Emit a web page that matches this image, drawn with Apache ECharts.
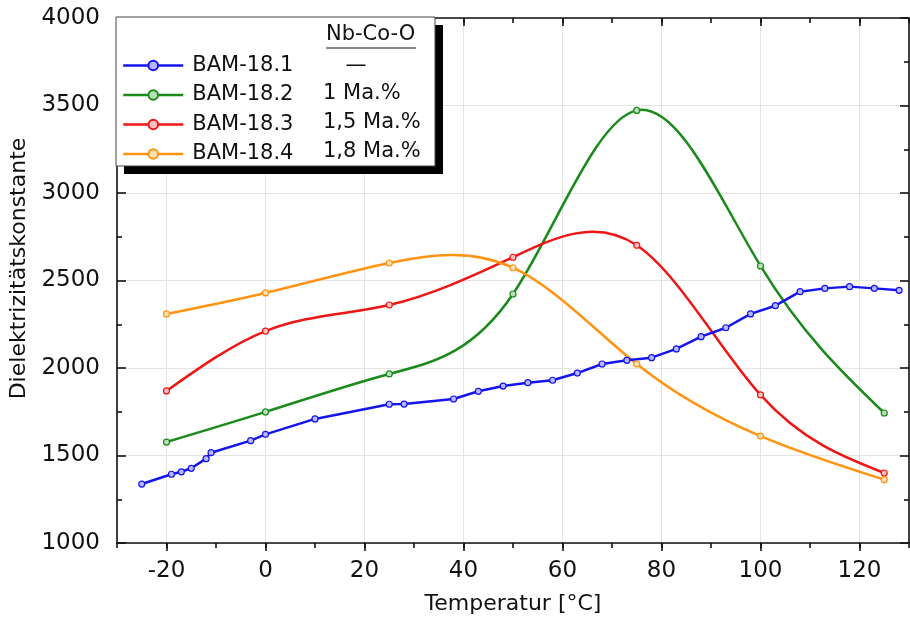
<!DOCTYPE html>
<html>
<head>
<meta charset="utf-8">
<script src="https://cdn.jsdelivr.net/npm/echarts@6/dist/echarts.min.js"></script>
<style>html,body{margin:0;padding:0;background:#fff}#c{width:910px;height:621px}</style>
</head>
<body>
<div id="c"></div>
<script>
// ---- data ----
const seriesNames = ['BAM-18.1', 'BAM-18.2', 'BAM-18.3', 'BAM-18.4'];
const nbCoOContent = ['—', '1 Ma.%', '1,5 Ma.%', '1,8 Ma.%'];
const tempBlue = [-25, -19, -17, -15, -12, -11, -3, 0, 10, 25, 28, 38, 43, 48, 53, 58, 63, 68, 73, 78, 83, 88, 93, 98, 103, 108, 113, 118, 123, 128];
const bam181 = [1337, 1393, 1407, 1427, 1482, 1516, 1585, 1621, 1709, 1793, 1794, 1823, 1867, 1897, 1916, 1930, 1971, 2023, 2044, 2059, 2109, 2179, 2230, 2309, 2356, 2436, 2455, 2465, 2455, 2444];
const tempOther = [-20, 0, 25, 50, 75, 100, 125];
const bam182 = [1577, 1749, 1966, 2423, 3472, 2583, 1743];
const bam183 = [1869, 2211, 2360, 2633, 2701, 1846, 1400];
const bam184 = [2309, 2429, 2600, 2573, 2023, 1611, 1362];
const xMajorTicks = [-20, 0, 20, 40, 60, 80, 100, 120];

const zip = (xs, ys) => xs.map((x, i) => [x, ys[i]]);
const FONT = 'DejaVu Sans';
const colors = ['#1414ee', '#1a8a1a', '#ee1515', '#ff9412'];
const fills = ['#b8b8ff', '#b8e0b8', '#ffc0c0', '#ffe0b0'];

// natural cubic spline slopes at the measured points (curve rendering only)
function splineSlopes(xs, ys) {
  const n = xs.length, h = [], M = new Array(n).fill(0);
  for (let i = 0; i < n - 1; i++) h.push(xs[i + 1] - xs[i]);
  const a = [], b = [], c = [], r = [];
  for (let i = 1; i < n - 1; i++) {
    a.push(h[i - 1]); b.push(2 * (h[i - 1] + h[i])); c.push(h[i]);
    r.push(6 * ((ys[i + 1] - ys[i]) / h[i] - (ys[i] - ys[i - 1]) / h[i - 1]));
  }
  const m = b.length;
  for (let i = 1; i < m; i++) { const w = a[i] / b[i - 1]; b[i] -= w * c[i - 1]; r[i] -= w * r[i - 1]; }
  const sol = new Array(m);
  for (let i = m - 1; i >= 0; i--) sol[i] = (r[i] - (i < m - 1 ? c[i] * sol[i + 1] : 0)) / b[i];
  for (let i = 0; i < m; i++) M[i + 1] = sol[i];
  const d = [];
  for (let i = 0; i < n - 1; i++) d.push((ys[i + 1] - ys[i]) / h[i] - h[i] * (2 * M[i] + M[i + 1]) / 6);
  d.push((ys[n - 1] - ys[n - 2]) / h[n - 2] + h[n - 2] * (M[n - 2] + 2 * M[n - 1]) / 6);
  return d;
}

function curveSeries(xs, ys, color) {
  const d = splineSlopes(xs, ys);
  return {
    type: 'custom', xAxisIndex: 0, yAxisIndex: 0, z: 2, silent: true,
    data: zip(xs, ys),
    encode: { x: 0, y: 1 },
    renderItem: function (params, api) {
      const i = params.dataIndex;
      if (i >= xs.length - 1) return null;
      const x0 = api.value(0), y0 = api.value(1);
      const x1 = xs[i + 1], y1 = ys[i + 1];
      const hh = (x1 - x0) / 3;
      const p0 = api.coord([x0, y0]);
      const p3 = api.coord([x1, y1]);
      const c1 = api.coord([x0 + hh, y0 + d[i] * hh]);
      const c2 = api.coord([x1 - hh, y1 - d[i + 1] * hh]);
      return {
        type: 'bezierCurve',
        shape: { x1: p0[0], y1: p0[1], x2: p3[0], y2: p3[1], cpx1: c1[0], cpy1: c1[1], cpx2: c2[0], cpy2: c2[1] },
        style: { stroke: color, lineWidth: 2.5, fill: null }
      };
    }
  };
}

function mkSeries(i, data, showLine) {
  return {
    name: seriesNames[i], type: 'line', data: data, z: 3,
    xAxisIndex: 0, yAxisIndex: 0,
    symbol: 'circle', symbolSize: 6,
    lineStyle: { color: colors[i], width: 2.5, opacity: showLine ? 1 : 0 },
    itemStyle: { color: fills[i], borderColor: colors[i], borderWidth: 1.2 },
    emphasis: { disabled: true }
  };
}

const chart = echarts.init(document.getElementById('c'), null, { renderer: 'canvas' });
const axisLineStyle = { color: '#111', width: 1.6 };
const xBase = { type: 'value', min: -30, max: 130 };
const plain = v => String(v);
chart.setOption({
  animation: false,
  backgroundColor: '#fff',
  grid: { left: 117, right: 1, top: 18, bottom: 78, containLabel: false },
  xAxis: [
    Object.assign({}, xBase, {
      position: 'bottom',
      name: 'Temperatur [°C]', nameLocation: 'middle', nameGap: 50,
      nameTextStyle: { fontFamily: FONT, fontSize: 22, color: '#111' },
      axisLine: { show: true, onZero: false, lineStyle: axisLineStyle },
      axisTick: { show: true, inside: false, length: 8, customValues: xMajorTicks, lineStyle: { color: '#111', width: 1.6 } },
      axisLabel: { customValues: xMajorTicks, margin: 17, fontFamily: FONT, fontSize: 23, color: '#111', formatter: plain },
      splitLine: { show: true, lineStyle: { color: '#e4e4e4', width: 1 } }
    }),
    Object.assign({}, xBase, {
      position: 'top',
      axisLine: { show: true, onZero: false, lineStyle: axisLineStyle },
      axisTick: { show: true, inside: true, length: 8, customValues: xMajorTicks, lineStyle: { color: '#111', width: 1.6 } },
      axisLabel: { show: false },
      splitLine: { show: false }
    }),
    Object.assign({}, xBase, {
      position: 'bottom', interval: 10,
      axisLine: { show: false, onZero: false },
      axisTick: { show: true, inside: false, length: 5, lineStyle: { color: '#111', width: 1.6 } },
      axisLabel: { show: false },
      splitLine: { show: false }
    }),
    Object.assign({}, xBase, {
      position: 'top', interval: 10,
      axisLine: { show: false, onZero: false },
      axisTick: { show: true, inside: true, length: 5, lineStyle: { color: '#111', width: 1.6 } },
      axisLabel: { show: false },
      splitLine: { show: false }
    })
  ],
  yAxis: [
    {
      type: 'value', min: 1000, max: 4000, interval: 500, position: 'left',
      name: 'Dielektrizitätskonstante', nameLocation: 'middle', nameGap: 84, nameRotate: 90,
      nameTextStyle: { fontFamily: FONT, fontSize: 22, color: '#111', padding: [0, 0, 0, 24] },
      axisLine: { show: true, onZero: false, lineStyle: axisLineStyle },
      axisTick: { show: true, inside: true, length: 9, lineStyle: { color: '#111', width: 1.6 } },
      minorTick: { show: true, splitNumber: 2, length: 5, lineStyle: { color: '#111', width: 1.6 } },
      axisLabel: { margin: 17, fontFamily: FONT, fontSize: 23, color: '#111', formatter: plain },
      splitLine: { show: true, lineStyle: { color: '#e4e4e4', width: 1 } }
    },
    {
      type: 'value', min: 1000, max: 4000, interval: 500, position: 'right',
      axisLine: { show: true, onZero: false, lineStyle: axisLineStyle },
      axisTick: { show: true, inside: true, length: 9, lineStyle: { color: '#111', width: 1.6 } },
      minorTick: { show: true, splitNumber: 2, length: 5, lineStyle: { color: '#111', width: 1.6 } },
      axisLabel: { show: false },
      splitLine: { show: false }
    }
  ],
  legend: {
    show: true, orient: 'vertical', left: 122, top: 55, z: 100, padding: 0,
    itemWidth: 60, itemHeight: 12, itemGap: 8.5,
    data: seriesNames.map((n, i) => ({ name: n, lineStyle: { color: colors[i], width: 2.5, opacity: 1 } })),
    textStyle: { fontFamily: FONT, fontSize: 21, color: '#111', lineHeight: 21, padding: [0, 0, 0, 4] },
    selectedMode: false
  },
  graphic: [
    { type: 'rect', z: 50, shape: { x: 124, y: 25, width: 319, height: 149 }, style: { fill: '#000' } },
    { type: 'rect', z: 51, shape: { x: 116, y: 17, width: 319, height: 149 }, style: { fill: '#fff', stroke: '#444', lineWidth: 1 } },
    { type: 'text', z: 52, x: 326, y: 35, style: { text: 'Nb-Co-O', font: '21px "DejaVu Sans"', fill: '#111', verticalAlign: 'middle' } },
    { type: 'line', z: 52, shape: { x1: 326, y1: 48, x2: 416, y2: 48 }, style: { stroke: '#111', lineWidth: 1.2 } },
    { type: 'text', z: 52, x: 356, y: 66, style: { text: nbCoOContent[0], font: '21px "DejaVu Sans"', fill: '#111', align: 'center', verticalAlign: 'middle' } },
    { type: 'text', z: 52, x: 323, y: 94, style: { text: nbCoOContent[1], font: '21px "DejaVu Sans"', fill: '#111', verticalAlign: 'middle' } },
    { type: 'text', z: 52, x: 323, y: 123, style: { text: nbCoOContent[2], font: '21px "DejaVu Sans"', fill: '#111', verticalAlign: 'middle' } },
    { type: 'text', z: 52, x: 323, y: 152, style: { text: nbCoOContent[3], font: '21px "DejaVu Sans"', fill: '#111', verticalAlign: 'middle' } }
  ],
  series: [
    curveSeries(tempOther, bam182, colors[1]),
    curveSeries(tempOther, bam183, colors[2]),
    curveSeries(tempOther, bam184, colors[3]),
    mkSeries(0, zip(tempBlue, bam181), true),
    mkSeries(1, zip(tempOther, bam182), false),
    mkSeries(2, zip(tempOther, bam183), false),
    mkSeries(3, zip(tempOther, bam184), false)
  ]
});
</script>
</body>
</html>
